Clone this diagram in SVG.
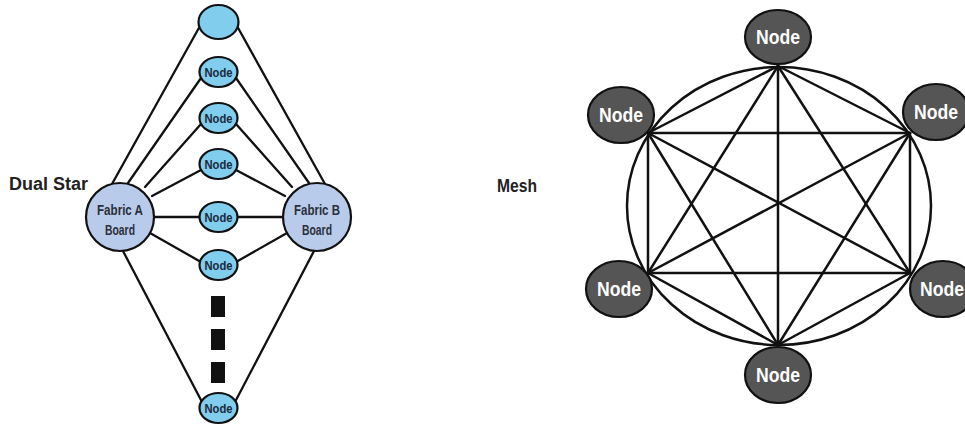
<svg xmlns="http://www.w3.org/2000/svg" width="965" height="427" viewBox="0 0 965 427">
<style>
.bg{fill:#ffffff}
.ln{stroke:#111;stroke-width:2.3;fill:none;stroke-linecap:round}
.mln{stroke:#111;stroke-width:2.5;fill:none;stroke-linecap:round}
.sn{fill:#80cdee;stroke:#111;stroke-width:2.2}
.fb{fill:#b9cbea;stroke:#111;stroke-width:2.2}
.mn{fill:#555555;stroke:#111;stroke-width:2.2}
.st{font-family:"Liberation Sans",Arial,sans-serif;font-weight:bold;font-size:12px;fill:#1c2a3c;text-anchor:middle}
.ft{font-family:"Liberation Sans",Arial,sans-serif;font-weight:bold;font-size:14.5px;fill:#2a2f3a;text-anchor:middle}
.mt{font-family:"Liberation Sans",Arial,sans-serif;font-weight:bold;font-size:20px;fill:#ffffff;text-anchor:middle}
.lab{font-family:"Liberation Sans",Arial,sans-serif;font-weight:bold;font-size:18px;fill:#222}
</style>
<rect class="bg" x="0" y="0" width="965" height="427"/>
<text class="lab" x="9" y="190" textLength="79" lengthAdjust="spacingAndGlyphs">Dual Star</text>
<text class="lab" x="497" y="192" textLength="40" lengthAdjust="spacingAndGlyphs">Mesh</text>
<g id="connectors">
  <g id="dual-star-links">
    <line class="ln" x1="112" y1="184" x2="200" y2="26"/>
    <line class="ln" x1="128" y1="183" x2="201" y2="78"/>
    <line class="ln" x1="145" y1="187" x2="201" y2="124"/>
    <line class="ln" x1="152" y1="196" x2="201" y2="170"/>
    <line class="ln" x1="150" y1="217" x2="200" y2="217"/>
    <line class="ln" x1="150" y1="233" x2="201" y2="262"/>
    <line class="ln" x1="123" y1="251" x2="202" y2="402"/>
    <line class="ln" x1="325" y1="184" x2="237" y2="26"/>
    <line class="ln" x1="309" y1="183" x2="236" y2="78"/>
    <line class="ln" x1="292" y1="187" x2="236" y2="124"/>
    <line class="ln" x1="285" y1="196" x2="236" y2="170"/>
    <line class="ln" x1="287" y1="217" x2="237" y2="217"/>
    <line class="ln" x1="287" y1="233" x2="236" y2="262"/>
    <line class="ln" x1="314" y1="251" x2="235" y2="402"/>
  </g>
  <g id="mesh-links">
    <ellipse class="mln" cx="779" cy="206" rx="152" ry="139"/>
    <line class="mln" x1="778" y1="66" x2="648" y2="133"/>
    <line class="mln" x1="778" y1="66" x2="910" y2="133"/>
    <line class="mln" x1="778" y1="66" x2="648" y2="273"/>
    <line class="mln" x1="778" y1="66" x2="910" y2="273"/>
    <line class="mln" x1="778" y1="66" x2="778" y2="345"/>
    <line class="mln" x1="648" y1="133" x2="910" y2="133"/>
    <line class="mln" x1="648" y1="133" x2="648" y2="273"/>
    <line class="mln" x1="648" y1="133" x2="910" y2="273"/>
    <line class="mln" x1="648" y1="133" x2="778" y2="345"/>
    <line class="mln" x1="910" y1="133" x2="648" y2="273"/>
    <line class="mln" x1="910" y1="133" x2="910" y2="273"/>
    <line class="mln" x1="910" y1="133" x2="778" y2="345"/>
    <line class="mln" x1="648" y1="273" x2="910" y2="273"/>
    <line class="mln" x1="648" y1="273" x2="778" y2="345"/>
    <line class="mln" x1="910" y1="273" x2="778" y2="345"/>
  </g>
  <g id="ellipsis">
    <rect x="211" y="296" width="14" height="21" fill="#111"/>
    <rect x="211" y="329" width="14" height="21" fill="#111"/>
    <rect x="211" y="362" width="14" height="21" fill="#111"/>
  </g>
</g>
<g id="ds-top"><ellipse class="sn" cx="218.5" cy="22" rx="20" ry="17"/></g>
<g id="ds-n1"><ellipse class="sn" cx="218.5" cy="72" rx="19" ry="15"/><text class="st" x="218.5" y="76.5" textLength="28" lengthAdjust="spacingAndGlyphs">Node</text></g>
<g id="ds-n2"><ellipse class="sn" cx="218.5" cy="118" rx="19" ry="15"/><text class="st" x="218.5" y="122.5" textLength="28" lengthAdjust="spacingAndGlyphs">Node</text></g>
<g id="ds-n3"><ellipse class="sn" cx="218.5" cy="164" rx="19" ry="15"/><text class="st" x="218.5" y="168.5" textLength="28" lengthAdjust="spacingAndGlyphs">Node</text></g>
<g id="ds-n4"><ellipse class="sn" cx="218.5" cy="217" rx="19" ry="15"/><text class="st" x="218.5" y="221.5" textLength="28" lengthAdjust="spacingAndGlyphs">Node</text></g>
<g id="ds-n5"><ellipse class="sn" cx="218.5" cy="265" rx="19" ry="15"/><text class="st" x="218.5" y="269.5" textLength="28" lengthAdjust="spacingAndGlyphs">Node</text></g>
<g id="ds-n6"><ellipse class="sn" cx="218.5" cy="408" rx="19" ry="15"/><text class="st" x="218.5" y="412.5" textLength="28" lengthAdjust="spacingAndGlyphs">Node</text></g>
<g id="fabric-a"><circle class="fb" cx="120" cy="217" r="34"/><text class="ft" x="120" y="215" textLength="46" lengthAdjust="spacingAndGlyphs">Fabric A</text><text class="ft" x="120" y="235" textLength="30" lengthAdjust="spacingAndGlyphs">Board</text></g>
<g id="fabric-b"><circle class="fb" cx="317" cy="217" r="34"/><text class="ft" x="317" y="215" textLength="46" lengthAdjust="spacingAndGlyphs">Fabric B</text><text class="ft" x="317" y="235" textLength="30" lengthAdjust="spacingAndGlyphs">Board</text></g>
<g id="mesh-top"><ellipse class="mn" cx="778" cy="37" rx="33" ry="27"/><text class="mt" x="778" y="44" textLength="44" lengthAdjust="spacingAndGlyphs">Node</text></g>
<g id="mesh-ul"><ellipse class="mn" cx="621" cy="115" rx="33" ry="28"/><text class="mt" x="621" y="122" textLength="44" lengthAdjust="spacingAndGlyphs">Node</text></g>
<g id="mesh-ur"><ellipse class="mn" cx="936" cy="112" rx="33" ry="28"/><text class="mt" x="936" y="119" textLength="44" lengthAdjust="spacingAndGlyphs">Node</text></g>
<g id="mesh-ll"><ellipse class="mn" cx="619" cy="289" rx="33" ry="28"/><text class="mt" x="619" y="296" textLength="44" lengthAdjust="spacingAndGlyphs">Node</text></g>
<g id="mesh-lr"><ellipse class="mn" cx="943" cy="289" rx="33" ry="28"/><text class="mt" x="942" y="296" textLength="44" lengthAdjust="spacingAndGlyphs">Node</text></g>
<g id="mesh-b"><ellipse class="mn" cx="778" cy="375" rx="33" ry="28"/><text class="mt" x="778" y="382" textLength="44" lengthAdjust="spacingAndGlyphs">Node</text></g>
</svg>
